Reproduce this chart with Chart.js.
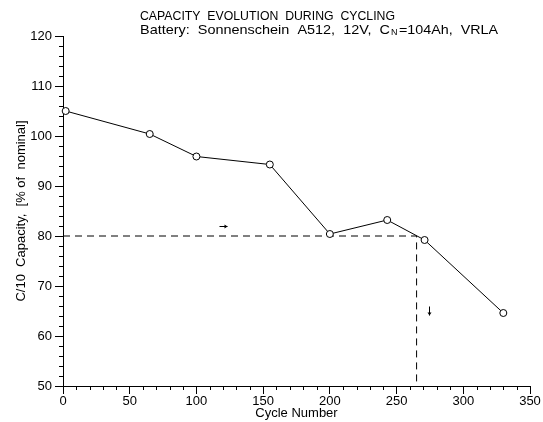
<!DOCTYPE html>
<html>
<head>
<meta charset="utf-8">
<script src="https://cdn.jsdelivr.net/npm/chart.js@4.4.0/dist/chart.umd.min.js"></script>
<style>
html,body{margin:0;padding:0;background:#fff;}
</style>
</head>
<body>
<canvas id="myChart" width="543" height="422"></canvas>
<script>
// capacity measurements
const cycles = [2, 65, 100, 155, 200, 243, 271, 330];
const capacity = [105.0, 100.4, 95.9, 94.3, 80.4, 83.2, 79.2, 64.6];

// 80% end-of-life guide line
const limitX = [0, 265, 265];
const limitY = [80, 80, 50];

// little arrows on the guide
const arrowX = [120, 274];
const arrowY = [82, 65];
const arrowDir = ['right', 'down'];

const title1 = 'CAPACITY  EVOLUTION  DURING  CYCLING';
const title2a = 'Battery:  Sonnenschein  A512,  12V,  C';
const title2sub = 'N';
const title2b = '=104Ah,  VRLA';

const FONT = '"Liberation Sans", Arial, sans-serif';

const toPts = (xs, ys) => xs.map((x, i) => ({x: x, y: ys[i]}));

const extras = {
  id: 'extras',
  afterDraw(chart) {
    const ctx = chart.ctx;
    const xs = chart.scales.x, ys = chart.scales.y;
    const area = chart.chartArea;
    ctx.save();
    ctx.strokeStyle = '#000';
    ctx.lineWidth = 1;
    // minor ticks
    ctx.beginPath();
    xs.ticks.forEach(t => {
      if (t.value % 50 !== 0) {
        const p = Math.round(xs.getPixelForValue(t.value)) + 0.5;
        ctx.moveTo(p, area.bottom);
        ctx.lineTo(p, area.bottom + 4);
      }
    });
    ys.ticks.forEach(t => {
      if (t.value % 10 !== 0) {
        const p = Math.round(ys.getPixelForValue(t.value)) + 0.5;
        ctx.moveTo(area.left, p);
        ctx.lineTo(area.left - 4, p);
      }
    });
    ctx.stroke();

    // arrows
    ctx.fillStyle = '#000';
    arrowX.forEach((v, i) => {
      const px = Math.round(xs.getPixelForValue(v)) + 0.5;
      const py = Math.round(ys.getPixelForValue(arrowY[i])) + 0.5;
      ctx.beginPath();
      if (arrowDir[i] === 'right') {
        ctx.moveTo(px - 4, py); ctx.lineTo(px + 4, py); ctx.stroke();
        ctx.beginPath();
        ctx.moveTo(px + 4, py); ctx.lineTo(px + 1, py - 2); ctx.lineTo(px + 1, py + 2); ctx.closePath(); ctx.fill();
      } else {
        ctx.moveTo(px, py - 5); ctx.lineTo(px, py + 4); ctx.stroke();
        ctx.beginPath();
        ctx.moveTo(px, py + 4); ctx.lineTo(px - 2, py + 1); ctx.lineTo(px + 2, py + 1); ctx.closePath(); ctx.fill();
      }
    });

    // title lines, squeezed to the plotter font widths
    ctx.textBaseline = 'middle';
    ctx.textAlign = 'left';
    ctx.font = '13px ' + FONT;
    const drawFit = (text, x, y, w) => {
      const m = ctx.measureText(text).width;
      ctx.save();
      ctx.translate(x, y);
      ctx.scale(w / m, 1);
      ctx.fillText(text, 0, 0);
      ctx.restore();
    };
    drawFit(title1, 140, 16, 255);
    drawFit(title2a, 140, 30, 250);
    ctx.font = '9px ' + FONT;
    ctx.fillText(title2sub, 391, 33);
    ctx.font = '13px ' + FONT;
    drawFit(title2b, 399, 30, 99);
    ctx.restore();
  }
};

const ctx = document.getElementById('myChart').getContext('2d');
const chart = new Chart(ctx, {
  type: 'scatter',
  data: {
    datasets: [
      {
        label: 'Capacity',
        data: toPts(cycles, capacity),
        showLine: true,
        borderColor: '#000',
        borderWidth: 1,
        pointRadius: 3.5,
        pointBorderWidth: 1,
        pointBorderColor: '#000',
        pointBackgroundColor: '#fff',
        tension: 0,
        clip: false
      },
      {
        label: '80% limit',
        data: toPts(limitX, limitY),
        showLine: true,
        borderColor: '#000',
        borderWidth: 1,
        borderDash: [7, 5],
        pointRadius: 0,
        tension: 0,
        clip: false
      }
    ]
  },
  options: {
    responsive: false,
    animation: false,
    devicePixelRatio: 1,
    layout: {padding: {left: 0, right: 13, top: 36, bottom: 0}},
    plugins: {
      legend: {display: false},
      tooltip: {enabled: false},
      title: {display: false}
    },
    scales: {
      x: {
        type: 'linear',
        min: 0,
        max: 350,
        afterFit: s => { s.height = 36; },
        ticks: {
          stepSize: 10,
          autoSkip: false,
          maxRotation: 0,
          padding: 0,
          color: '#000',
          font: {family: FONT, size: 13},
          callback: v => (v % 50 === 0 ? v : '')
        },
        grid: {
          drawOnChartArea: false,
          tickLength: 8,
          tickWidth: 1,
          tickColor: c => (c.tick && c.tick.value % 50 === 0 ? '#000' : 'rgba(0,0,0,0)')
        },
        border: {display: true, color: '#000', width: 1},
        title: {
          display: true,
          text: 'Cycle Number',
          color: '#000',
          font: {family: FONT, size: 13},
          padding: {top: 0, bottom: 1}
        }
      },
      y: {
        min: 50,
        max: 120,
        afterFit: s => { s.width = 63; },
        ticks: {
          stepSize: 2,
          autoSkip: false,
          padding: 3,
          color: '#000',
          font: {family: FONT, size: 13},
          callback: v => (v % 10 === 0 ? v : '')
        },
        grid: {
          drawOnChartArea: false,
          tickLength: 8,
          tickWidth: 1,
          tickColor: c => (c.tick && c.tick.value % 10 === 0 ? '#000' : 'rgba(0,0,0,0)')
        },
        border: {display: true, color: '#000', width: 1},
        title: {
          display: true,
          text: 'C/10  Capacity,  [% of  nominal]',
          color: '#000',
          font: {family: FONT, size: 13},
          padding: {top: 14, bottom: 0}
        }
      }
    }
  },
  plugins: [extras]
});
</script>
</body>
</html>
